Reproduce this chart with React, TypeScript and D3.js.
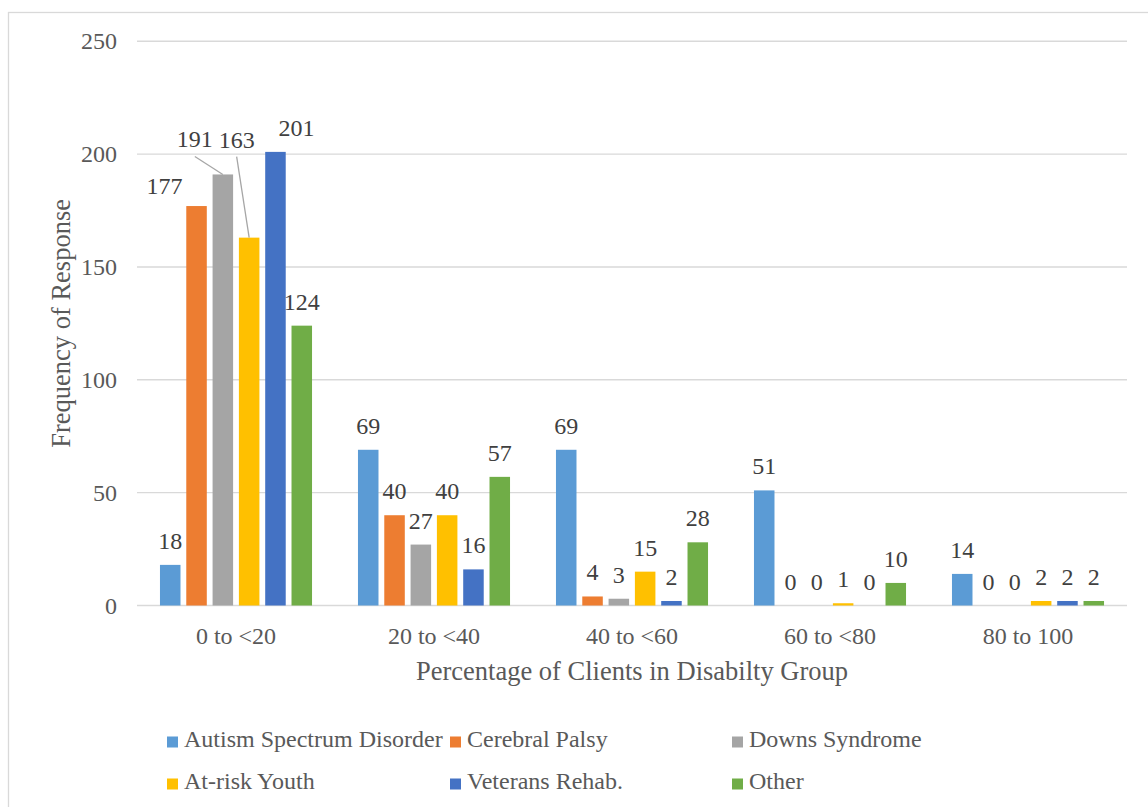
import React from "react";
import * as d3 from "d3";

const categories = ["0 to <20", "20 to <40", "40 to <60", "60 to <80", "80 to 100"];
const seriesNames = [
  "Autism Spectrum Disorder",
  "Cerebral Palsy",
  "Downs Syndrome",
  "At-risk Youth",
  "Veterans Rehab.",
  "Other",
];
const autism = [18, 69, 69, 51, 14];
const cerebralPalsy = [177, 40, 4, 0, 0];
const downs = [191, 27, 3, 0, 0];
const atRisk = [163, 40, 15, 1, 2];
const veterans = [201, 16, 2, 0, 2];
const other = [124, 57, 28, 10, 2];
const seriesValues = [autism, cerebralPalsy, downs, atRisk, veterans, other];
const colors = ["#5B9BD5", "#ED7D31", "#A5A5A5", "#FFC000", "#4472C4", "#70AD47"];
const yTicks = [0, 50, 100, 150, 200, 250];

// manually moved labels (series index, category index) -> offset from default
const labelOffsets: Record<string, { dx: number; dy: number; leader?: boolean }> = {
  "1-0": { dx: -32, dy: 4, leader: false },
  "2-0": { dx: -28, dy: -11, leader: true },
  "3-0": { dx: -12.5, dy: -74, leader: true },
  "4-0": { dx: 21, dy: 0, leader: false },
};

const W = 1148;
const H = 807;
const plotLeft = 137;
const plotRight = 1127;
const plotTop = 41.3;
const plotBottom = 605.5;

const FONT = "'Liberation Serif', 'Times New Roman', Times, serif";
const txt = (size: number) => ({ fontFamily: FONT, fontSize: `${size}px` });

export default function App() {
  const x0 = d3
    .scaleBand<string>()
    .domain(categories)
    .range([plotLeft, plotRight])
    .paddingInner(0.232)
    .paddingOuter(0.116);
  const x1 = d3
    .scaleBand<string>()
    .domain(seriesNames)
    .range([0, x0.bandwidth()])
    .paddingInner(0.22);
  const y = d3.scaleLinear().domain([0, 250]).range([plotBottom, plotTop]);

  const legendItems = [
    { col: 167, row: 747 },
    { col: 450, row: 747 },
    { col: 732, row: 747 },
    { col: 167, row: 789 },
    { col: 450, row: 789 },
    { col: 732, row: 789 },
  ];

  return (
    <svg
      width={W}
      height={H}
      style={{ position: "absolute", left: 0, top: 0, background: "#fff" }}
    >
      <rect x={0} y={0} width={W} height={H} fill="#fff" />
      <rect x={8.5} y={12.5} width={1150} height={820} fill="#fff" stroke="#D9D9D9" strokeWidth={1.3} />
      {/* gridlines */}
      {yTicks.map((t) => (
        <g key={t}>
          <line
            x1={plotLeft}
            x2={plotRight}
            y1={y(t)}
            y2={y(t)}
            stroke="#D9D9D9"
            strokeWidth={1.4}
          />
          <text x={117} y={y(t) + 8} textAnchor="end" style={txt(24)} fill="#595959">
            {t}
          </text>
        </g>
      ))}
      {/* bars */}
      {seriesNames.map((s, si) =>
        categories.map((c, ci) => {
          const v = seriesValues[si][ci];
          const bx = (x0(c) as number) + (x1(s) as number);
          const bw = x1.bandwidth();
          return (
            <rect
              key={s + c}
              x={bx}
              y={y(v)}
              width={bw}
              height={plotBottom - y(v)}
              fill={colors[si]}
            />
          );
        })
      )}
      {/* data labels */}
      {seriesNames.map((s, si) =>
        categories.map((c, ci) => {
          const v = seriesValues[si][ci];
          const cx = (x0(c) as number) + (x1(s) as number) + x1.bandwidth() / 2;
          const top = y(v);
          const off = labelOffsets[`${si}-${ci}`] || { dx: 0, dy: 0 };
          const lx = cx + off.dx;
          const ly = top - 16 + off.dy;
          return (
            <g key={"l" + s + c}>
              {off.leader && (
                <line
                  x1={lx}
                  y1={ly + 9}
                  x2={cx}
                  y2={top}
                  stroke="#A6A6A6"
                  strokeWidth={1.3}
                />
              )}
              <text x={lx} y={ly} textAnchor="middle" style={txt(24)} fill="#404040">
                {v}
              </text>
            </g>
          );
        })
      )}
      {/* category labels */}
      {categories.map((c) => (
        <text
          key={c}
          x={(x0(c) as number) + x0.bandwidth() / 2}
          y={644}
          textAnchor="middle"
          style={txt(24)}
          fill="#595959"
        >
          {c}
        </text>
      ))}
      {/* axis titles */}
      <text x={632} y={680} textAnchor="middle" style={txt(26.5)} fill="#595959">
        Percentage of Clients in Disabilty Group
      </text>
      <text
        transform={`translate(70, ${(plotTop + plotBottom) / 2}) rotate(-90)`}
        textAnchor="middle"
        style={txt(26.5)}
        fill="#595959"
      >
        Frequency of Response
      </text>
      {/* legend */}
      {seriesNames.map((s, i) => (
        <g key={"lg" + s}>
          <rect
            x={legendItems[i].col}
            y={legendItems[i].row - 10.5}
            width={11}
            height={11}
            fill={colors[i]}
          />
          <text x={legendItems[i].col + 17} y={legendItems[i].row} style={txt(24)} fill="#595959">
            {s}
          </text>
        </g>
      ))}
    </svg>
  );
}
